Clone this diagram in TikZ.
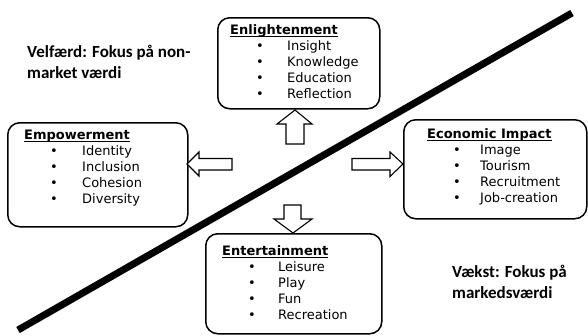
\documentclass[tikz,border=0pt]{standalone}
\usepackage{fontspec}
\setmainfont{DejaVu Sans}
\newfontfamily\headfont{Carlito}
\newcommand\ttl[1]{\rule{0pt}{10pt}\setbox0\hbox{\bfseries #1}\rlap{\rule[-2.8pt]{\wd0}{1.2pt}}\box0}
\newcommand\itm[2]{\hspace*{26pt}\makebox[#1][l]{\textbullet}#2}
\begin{document}
\begin{tikzpicture}[x=1pt,y=-1pt,
  box/.style={draw, line width=1.5pt, rounded corners=12pt, anchor=north west, inner sep=0pt},
  list/.style={anchor=north west, inner sep=0pt, align=left, font=\fontsize{13}{16}\selectfont},
  blockarrow/.style={draw, line width=1.1pt, fill=white, line join=miter},
  note/.style={anchor=north west, inner sep=0pt, align=left, font=\headfont\bfseries\fontsize{17}{20.5}\selectfont},
  divider/.style={line width=7pt}]
\useasboundingbox (0,0) rectangle (588,335);

% divider
\coordinate (dA) at (18,330);
\coordinate (dB) at (572,13);
\draw[divider] (dA) -- (dB);

% boxes
\node[box, minimum width=162, minimum height=91] (enl) at (217,17) {};
\node[box, minimum width=180, minimum height=104] (emp) at (7,122) {};
\node[box, minimum width=183, minimum height=99] (eco) at (403,119) {};
\node[box, minimum width=176, minimum height=100] (ent) at (205,233) {};

% texts in boxes
\node[list] (enlt) at (230,24) {\ttl{Enlightenment}\\ \itm{31pt}{Insight}\\ \itm{31pt}{Knowledge}\\ \itm{31pt}{Education}\\ \itm{31pt}{Reflection}};
\node[list] (empt) at (24,129) {\ttl{Empowerment}\\ \itm{32pt}{Identity}\\ \itm{32pt}{Inclusion}\\ \itm{32pt}{Cohesion}\\ \itm{32pt}{Diversity}};
\node[list] (ecot) at (427,128) {\ttl{Economic Impact}\\ \itm{27pt}{Image}\\ \itm{27pt}{Tourism}\\ \itm{27pt}{Recruitment}\\ \itm{27pt}{Job-creation}};
\node[list] (entt) at (222,245) {\ttl{Entertainment}\\ \itm{30pt}{Leisure}\\ \itm{30pt}{Play}\\ \itm{30pt}{Fun}\\ \itm{30pt}{Recreation}};

% block arrows
\draw[blockarrow] (295,110) -- (312,124) -- (304,124) -- (304,144) -- (286,144) -- (286,124) -- (277,124) -- cycle;
\draw[blockarrow] (187,164) -- (199,152) -- (199,158.5) -- (232,158.5) -- (232,170) -- (199,170) -- (199,176) -- cycle;
\draw[blockarrow] (403,164) -- (390,152) -- (390,158.5) -- (352,158.5) -- (352,170) -- (390,170) -- (390,176.5) -- cycle;
\draw[blockarrow] (293,233) -- (312,219) -- (301,219) -- (301,205) -- (284,205) -- (284,219) -- (274,219) -- cycle;

% notes
\node[note] (velf) at (27,45) {\rule{0pt}{12pt}Velfærd: Fokus på non-\\market værdi};
\node[note] (vaek) at (452,265) {\rule{0pt}{12pt}Vækst: Fokus på\\markedsværdi};
\end{tikzpicture}
\end{document}
